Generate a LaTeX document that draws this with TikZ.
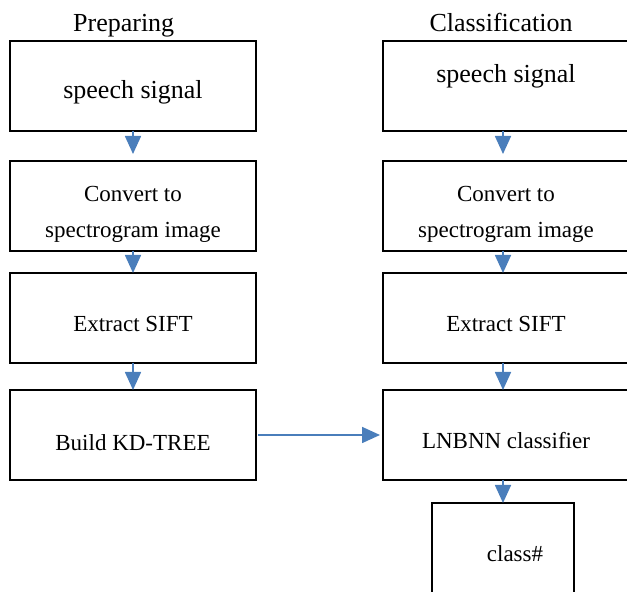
\documentclass[tikz,border=0pt]{standalone}
\usepackage{fontspec}
\setmainfont{Liberation Serif}
\usetikzlibrary{arrows.meta,positioning}
\definecolor{flowblue}{HTML}{4A7EBB}

\begin{document}
\begin{tikzpicture}[x=1pt, y=1pt, node distance=23pt,
  stage/.style={rectangle, draw, line width=1.8pt, outer sep=0pt, minimum width=246pt, minimum height=90pt, inner sep=0pt, align=center, font=\fontsize{23}{36}\selectfont},
  result/.style={stage, minimum width=142pt},
  heading/.style={anchor=base, font=\fontsize{26}{30}\selectfont},
  flow/.style={-{Triangle[width=16pt, length=18pt]}, line width=1.7pt, color=flowblue}]
\clip (0,0) rectangle (627,592);
\node[heading] (tprep) at (123.7,560) {Preparing};
\node[heading] (tclass) at (501,560) {Classification};
% preparing column
\node[stage, font=\fontsize{26}{30}\selectfont, text height=25pt, text depth=0pt] (prep1) at (133,506) {speech signal};
\node[stage, text height=62.5pt, text depth=0pt, below=30pt of prep1] (prep2) {Convert to\\spectrogram image};
\node[stage, text height=27.5pt, text depth=0pt, below=22pt of prep2] (prep3) {Extract SIFT};
\node[stage, text height=31.5pt, text depth=0pt, below=27pt of prep3] (prep4) {Build KD-TREE};
% classification column
\node[stage, font=\fontsize{26}{30}\selectfont, text height=0pt, text depth=7pt, right=127pt of prep1] (cls1) {speech signal};
\node[stage, text height=62.5pt, text depth=0pt, below=30pt of cls1] (cls2) {Convert to\\spectrogram image};
\node[stage, text height=27.5pt, text depth=0pt, below=22pt of cls2] (cls3) {Extract SIFT};
\node[stage, text height=27.5pt, text depth=0pt, below=27pt of cls3] (cls4) {LNBNN classifier};
\node[result, text height=27.5pt, text depth=0pt, below=23pt of cls4, xshift=-3pt] (cls5) {\hspace*{24pt}class\#};
% arrows
\draw[flow, shorten >=7pt] (prep1) -- (prep2);
\draw[flow] (prep2) -- (prep3);
\draw[flow] (prep3) -- (prep4);
\draw[flow, shorten >=7pt] (cls1.south -| cls5.north) -- (cls2.north -| cls5.north);
\draw[flow] (cls2.south -| cls5.north) -- (cls3.north -| cls5.north);
\draw[flow] (cls3.south -| cls5.north) -- (cls4.north -| cls5.north);
\draw[flow] (cls4.south -| cls5.north) -- (cls5);
\draw[flow, shorten <=2pt, shorten >=3pt] (prep4) -- (cls4);
\end{tikzpicture}
\end{document}
